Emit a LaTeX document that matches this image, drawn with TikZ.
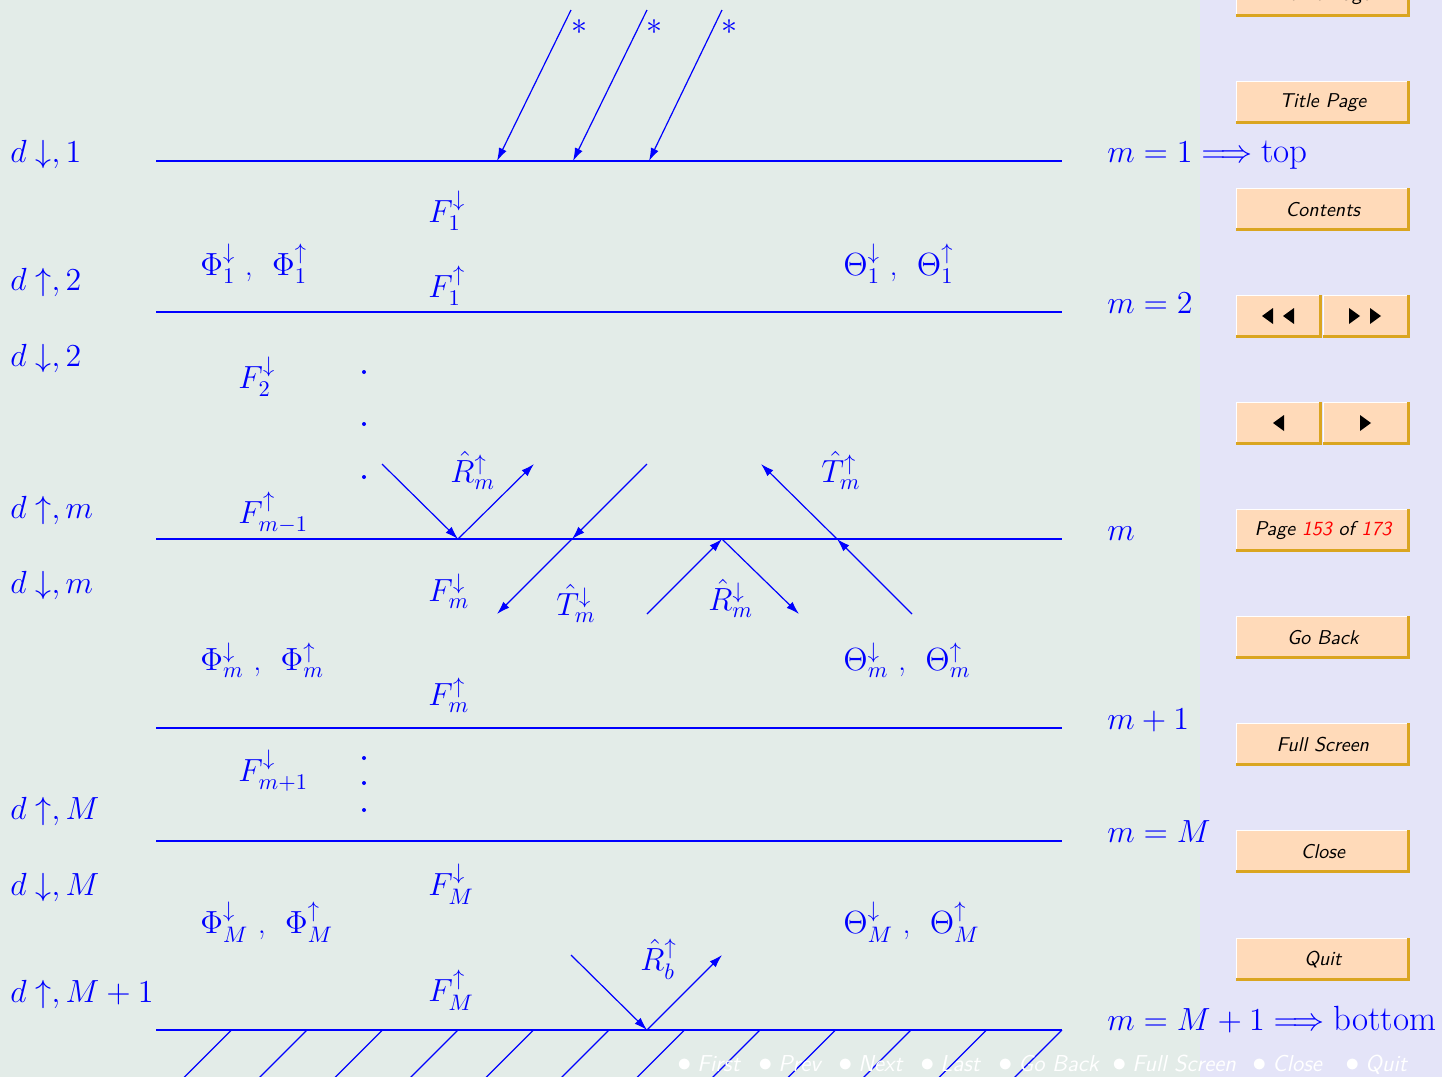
\RequirePackage{fix-cm}
\documentclass[tikz,border=0pt]{standalone}
\usepackage{amsmath,amssymb}
\usepackage{xcolor}
\usetikzlibrary{arrows.meta}

\definecolor{slidebg}{RGB}{227,236,232}
\definecolor{panelbg}{RGB}{228,228,248}
\definecolor{btnfill}{RGB}{255,218,185}
\definecolor{btnshade}{RGB}{218,165,32}

\newcommand{\bigword}[1]{\text{\fontsize{17.5}{21}\selectfont #1}}

\begin{document}
\begin{tikzpicture}[x=0.5pt,y=-0.5pt,>={Latex[length=6.5pt,width=4.2pt]},
  layer/.style={draw=blue,line width=0.7pt},
  ray/.style={draw=blue,line width=0.6pt,->},
  hatch/.style={draw=blue,line width=0.6pt},
  lbl/.style={text=blue,anchor=base west,inner sep=0pt,font=\fontsize{16}{19}\selectfont},
  btn/.style={fill=btnfill,anchor=north west,minimum height=21pt,inner sep=0pt,
    font=\sffamily\itshape\fontsize{10}{12}\selectfont},
  nav/.style={text=white,anchor=base west,inner sep=0pt,
    font=\sffamily\itshape\fontsize{11.5}{13}\selectfont}]
  \useasboundingbox (0,0) rectangle (1442,1077);
  \fill[slidebg] (0,0) rectangle (1200,1077);
  \fill[panelbg] (1200,0) rectangle (1442,1077);

  % layer interfaces
  \foreach \ly/\yy in {1/161,2/312,3/539,4/728,5/841,6/1030} {
    \coordinate (L\ly w) at (156,\yy);
    \coordinate (L\ly e) at (1062,\yy);
    \draw[layer] (L\ly w) -- (L\ly e);
  }
  \foreach \k in {1,...,12}
    \draw[hatch] (156+75.5*\k,1030) -- ++(-60,60);

  % left labels
  \node[lbl] (d1) at (10,162) {$d\downarrow,1$};
  \node[lbl] (u2) at (10,290) {$d\uparrow,2$};
  \node[lbl] (d2) at (10,366) {$d\downarrow,2$};
  \node[lbl] (um) at (10,518) {$d\uparrow,m$};
  \node[lbl] (dm) at (10,593) {$d\downarrow,m$};
  \node[lbl] (uM) at (10,819) {$d\uparrow,M$};
  \node[lbl] (dM) at (10,895) {$d\downarrow,M$};
  \node[lbl] (uM1) at (10,1002) {$d\uparrow,M+1$};

  % right labels
  \node[lbl] (top) at (1107,162) {$m=1\Longrightarrow\bigword{top}$};
  \node[lbl] (m2) at (1107,313) {$m=2$};
  \node[lbl] (mm) at (1107,540) {$m$};
  \node[lbl] (mp1) at (1107,729) {$m+1$};
  \node[lbl] (mM) at (1107,842) {$m=M$};
  \node[lbl] (bot) at (1107,1030) {$m=M+1\Longrightarrow\bigword{bottom}$};

  % incident beams
  \coordinate (ia) at (571,10); \coordinate (ja) at (497,161);
  \coordinate (ib) at (647,10); \coordinate (jb) at (573,161);
  \coordinate (ic) at (722,10); \coordinate (jc) at (649,161);
  \draw[ray] (ia) -- (ja);
  \draw[ray] (ib) -- (jb);
  \draw[ray] (ic) -- (jc);
  \node[lbl] (sa) at (571,34) {$*$};
  \node[lbl] (sb) at (646,34) {$*$};
  \node[lbl] (sc) at (721,34) {$*$};

  % layer 1 and layer m quantities
  \node[lbl] (F1d) at (428,222) {$F_1^{\downarrow}$};
  \node[lbl] (F1u) at (428,297) {$F_1^{\uparrow}$};
  \node[lbl] (Phi1) at (200,275) {$\Phi_1^{\downarrow}$ ,\ \ $\Phi_1^{\uparrow}$};
  \node[lbl] (Theta1) at (843,275) {$\Theta_1^{\downarrow}$ ,\ \ $\Theta_1^{\uparrow}$};
  \node[lbl] (F2d) at (238,388) {$F_2^{\downarrow}$};
  \node[lbl] (Fm1u) at (238,523) {$F_{m-1}^{\uparrow}$};
  \node[lbl] (Rmu) at (450,482) {$\hat{R}_m^{\uparrow}$};
  \node[lbl] (Tmu) at (821,482) {$\hat{T}_m^{\uparrow}$};
  \node[lbl] (Fmd) at (428,601) {$F_m^{\downarrow}$};
  \node[lbl] (Tmd) at (556,615) {$\hat{T}_m^{\downarrow}$};
  \node[lbl] (Rmd) at (708,610) {$\hat{R}_m^{\downarrow}$};
  \node[lbl] (Phim) at (200,670) {$\Phi_m^{\downarrow}$ ,\ \ $\Phi_m^{\uparrow}$};
  \node[lbl] (Thetam) at (843,670) {$\Theta_m^{\downarrow}$ ,\ \ $\Theta_m^{\uparrow}$};
  \node[lbl] (Fmu) at (428,705) {$F_m^{\uparrow}$};
  \node[lbl] (Fmp1d) at (238,781) {$F_{m+1}^{\downarrow}$};
  \node[lbl] (FMd) at (428,895) {$F_M^{\downarrow}$};
  \node[lbl] (PhiM) at (200,933) {$\Phi_M^{\downarrow}$ ,\ \ $\Phi_M^{\uparrow}$};
  \node[lbl] (ThetaM) at (843,933) {$\Theta_M^{\downarrow}$ ,\ \ $\Theta_M^{\uparrow}$};
  \node[lbl] (Rbu) at (640,970) {$\hat{R}_b^{\uparrow}$};
  \node[lbl] (FMu) at (428,1001) {$F_M^{\uparrow}$};

  \foreach \yy in {372,424,477,758,783,810}
    \fill[blue] (364,\yy) circle (1pt);

  % reflection and transmission at interface m
  \coordinate (rA) at (382,464); \coordinate (pA) at (458,539); \coordinate (rB) at (534,464);
  \coordinate (tA) at (647,464); \coordinate (qA) at (572,539); \coordinate (tB) at (497,614);
  \coordinate (uA) at (647,614); \coordinate (pB) at (722,539); \coordinate (uB) at (799,614);
  \coordinate (vA) at (912,614); \coordinate (qB) at (837,539); \coordinate (vB) at (761,464);
  \draw[ray] (rA) -- (pA);
  \draw[ray] (pA) -- (rB);
  \draw[ray] (tA) -- (qA);
  \draw[ray] (qA) -- (tB);
  \draw[ray] (uA) -- (pB);
  \draw[ray] (pB) -- (uB);
  \draw[ray] (vA) -- (qB);
  \draw[ray] (qB) -- (vB);

  % reflection at the bottom
  \coordinate (wA) at (571,955); \coordinate (pC) at (647,1030); \coordinate (wB) at (722,955);
  \draw[ray] (wA) -- (pC);
  \draw[ray] (pC) -- (wB);

  % navigation panel
  \foreach \nm/\xx/\yy/\ww/\txt in {home/1236/-26/86.5/Home Page,
      title/1236/81/86.5/Title Page, contents/1236/188/86.5/Contents,
      ffb/1236/295/42.5/{}, fff/1323/295/43/{}, bk/1236/402/42.5/{}, fw/1323/402/43/{},
      page/1236/509/86.5/{Page \textcolor{red}{153} of \textcolor{red}{173}},
      goback/1236/616/86.5/Go Back, full/1236/723/86.5/Full Screen,
      close/1236/830/86.5/Close, quit/1236/938/86.5/Quit} {
    \node[btn,minimum width=\ww pt] (\nm) at (\xx,\yy) {\txt};
    \draw[white,line width=0.5pt] (\nm.south west) |- (\nm.north east);
    \draw[btnshade,line width=1.5pt] ([yshift=0.75pt]\nm.south west) -| ([xshift=-0.75pt]\nm.north east);
  }
  \fill (1262,316) -- (1273,308) -- (1273,324) -- cycle;
  \fill (1283,316) -- (1294,308) -- (1294,324) -- cycle;
  \fill (1360,316) -- (1349,308) -- (1349,324) -- cycle;
  \fill (1381,316) -- (1370,308) -- (1370,324) -- cycle;
  \fill (1273,423) -- (1284,415) -- (1284,431) -- cycle;
  \fill (1371,423) -- (1360,415) -- (1360,431) -- cycle;

  \foreach \xx/\txt in {677/First,758/Prev,838/Next,920/Last,998/Go Back,
      1112/Full Screen,1252/Close,1345/Quit}
    \node[nav] (nav\xx) at (\xx,1071) {{\fontsize{14}{14}\selectfont$\bullet$}\hspace{3pt}\txt};
\end{tikzpicture}
\end{document}
